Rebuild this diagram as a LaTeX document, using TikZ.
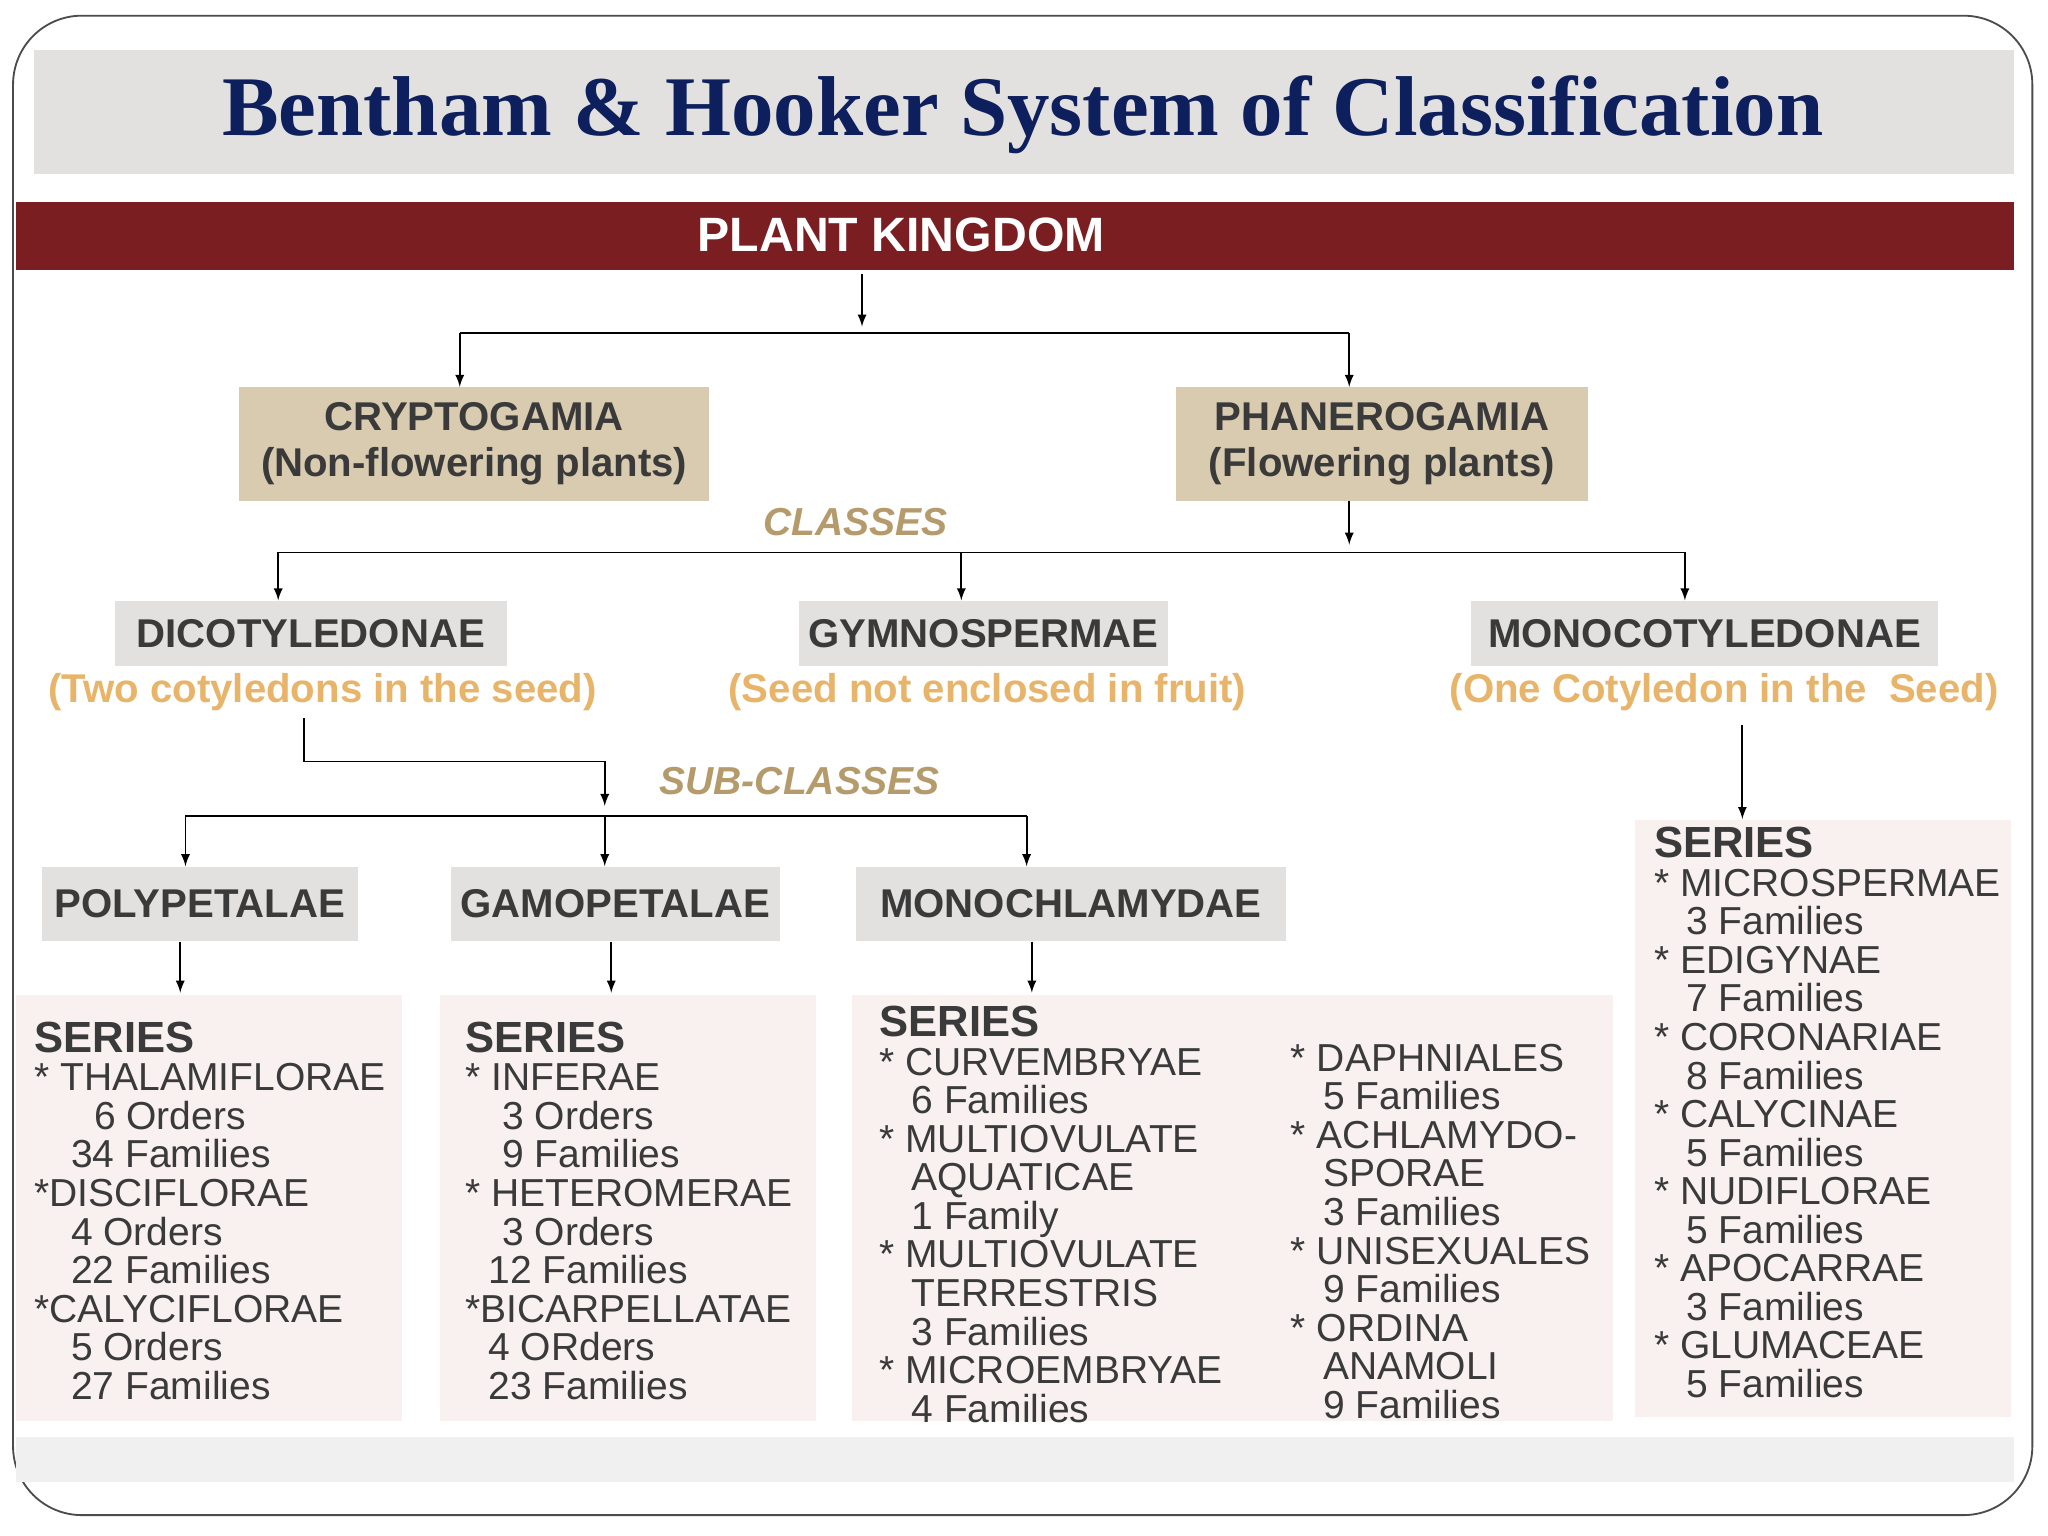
\documentclass[tikz,border=0pt]{standalone}
\usepackage{fontspec}
\setmainfont{Liberation Sans}
\newfontfamily\titlefont{Liberation Serif}
\definecolor{navy}{HTML}{0D1F5C}
\definecolor{maroon}{HTML}{7A1E22}
\definecolor{tan}{HTML}{D9CBB0}
\definecolor{lgray}{HTML}{E3E1DF}
\definecolor{gold}{HTML}{B59B6B}
\definecolor{orng}{HTML}{E8B46A}
\definecolor{panel}{HTML}{F8F1F0}
\definecolor{txt}{HTML}{3A3A3A}
\tikzset{
 box/.style={inner sep=0pt,font=\fontsize{17.5}{20}\selectfont\bfseries,text=txt,align=center},
 lab/.style={font=\fontsize{17}{20}\selectfont\bfseries\itshape,text=gold},
 sub/.style={font=\fontsize{17.5}{20}\selectfont\bfseries,text=orng},
 ser/.style={anchor=north west,align=left,inner sep=0pt,text=txt,font=\fontsize{17}{16.8}\selectfont},
 arr/.style={-latex,thick,black},
 ln/.style={thick,black}
}
\newcommand{\sershead}{\textbf{\fontsize{19}{18}\selectfont SERIES}}
\begin{document}
\begin{tikzpicture}[x=0.02cm,y=-0.02cm]
\useasboundingbox (0,0) rectangle (1568,1176);
\draw[black!70,line width=0.8pt,fill=white] (10,12) [rounded corners=30pt] rectangle (1556,1160);
\fill[lgray] (26,38) rectangle (1542,133);
\node[text=navy,font=\fontsize{37}{40}\selectfont\titlefont\bfseries] (title) at (783,88) {Bentham \& Hooker System of Classification};
\fill[black!6] (12,1100) rectangle (1542,1135);
\fill[maroon] (12,155) rectangle (1542,207);
\node[text=white,font=\fontsize{21}{22}\selectfont\bfseries] (pk) at (690,180) {PLANT KINGDOM};
% level 1
\node[box,fill=tan,minimum width=360*0.02cm,minimum height=87*0.02cm] (cry) at (363,340) {CRYPTOGAMIA\\(Non-flowering plants)};
\node[box,fill=tan,minimum width=316*0.02cm,minimum height=87*0.02cm] (pha) at (1058,340) {PHANEROGAMIA\\(Flowering plants)};
\coordinate (k1) at (660,210);
\draw[arr] (k1) -- (660,250);
\draw[ln] (352,255) -- (1033,255);
\draw[arr] (352,255) -- (cry.north-|352,0);
\draw[arr] (1033,255) -- (pha.north-|1033,0);
\node[lab] (classes) at (655,400) {CLASSES};
% level 2
\node[box,fill=lgray,minimum width=300*0.02cm,minimum height=50*0.02cm] (dic) at (238,485) {DICOTYLEDONAE};
\node[box,fill=lgray,minimum width=283*0.02cm,minimum height=50*0.02cm] (gym) at (753,485) {GYMNOSPERMAE};
\node[box,fill=lgray,minimum width=358*0.02cm,minimum height=50*0.02cm] (mon) at (1305,485) {MONOCOTYLEDONAE};
\draw[arr] (pha.south-|1033,0) -- (1033,417);
\draw[ln] (213,423) -- (1290,423);
\draw[arr] (213,423) -- (dic.north-|213,0);
\draw[arr] (736,423) -- (gym.north-|736,0);
\draw[arr] (1290,423) -- (mon.north-|1290,0);
\node[sub] (s1) at (247,530) {(Two cotyledons in the seed)};
\node[sub] (s2) at (756,530) {(Seed not enclosed in fruit)};
\node[sub] (s3) at (1320,530) {(One Cotyledon in the~~Seed)};
% subclasses
\draw[ln] (233,550) -- (233,583) -- (463,583);
\draw[arr] (463,583) -- (463,617);
\node[lab] (subc) at (612,598) {SUB-CLASSES};
\node[box,fill=lgray,minimum width=242*0.02cm,minimum height=57*0.02cm] (pol) at (153,692) {POLYPETALAE};
\node[box,fill=lgray,minimum width=252*0.02cm,minimum height=57*0.02cm] (gam) at (471,692) {GAMOPETALAE};
\node[box,fill=lgray,minimum width=329*0.02cm,minimum height=57*0.02cm] (mch) at (820,692) {MONOCHLAMYDAE};
\draw[ln] (142,625) -- (786,625);
\draw[arr] (142,625) -- (pol.north-|142,0);
\draw[arr] (463,625) -- (gam.north-|463,0);
\draw[arr] (786,625) -- (mch.north-|786,0);
% panels
\fill[panel] (12,762) rectangle (308,1088);
\fill[panel] (337,762) rectangle (625,1088);
\fill[panel] (652,762) rectangle (1235,1088);
\fill[panel] (1252,628) rectangle (1540,1085);
\draw[arr] (pol.south-|138,0) -- (138,760);
\draw[arr] (gam.south-|468,0) -- (468,760);
\draw[arr] (mch.south-|790,0) -- (790,760);
\draw[arr] (1334,555) -- (1334,627);
\node[ser] (p1) at (26,782) {\sershead\\
* THALAMIFLORAE\\\hspace*{26pt}6 Orders\\\hspace*{16pt}34 Families\\
*DISCIFLORAE\\\hspace*{16pt}4 Orders\\\hspace*{16pt}22 Families\\
*CALYCIFLORAE\\\hspace*{16pt}5 Orders\\\hspace*{16pt}27 Families};
\node[ser] (p2) at (356,782) {\sershead\\
* INFERAE\\\hspace*{16pt}3 Orders\\\hspace*{16pt}9 Families\\
* HETEROMERAE\\\hspace*{16pt}3 Orders\\\hspace*{10pt}12 Families\\
*BICARPELLATAE\\\hspace*{10pt}4 ORders\\\hspace*{10pt}23 Families};
\node[ser] (p3) at (673,770) {\sershead\\
* CURVEMBRYAE\\\hspace*{14pt}6 Families\\
* MULTIOVULATE\\\hspace*{14pt}AQUATICAE\\\hspace*{14pt}1 Family\\
* MULTIOVULATE\\\hspace*{14pt}TERRESTRIS\\\hspace*{14pt}3 Families\\
* MICROEMBRYAE\\\hspace*{14pt}4 Families};
\node[ser] (p4) at (988,799) {* DAPHNIALES\\\hspace*{14pt}5 Families\\
* ACHLAMYDO-\\\hspace*{14pt}SPORAE\\\hspace*{14pt}3 Families\\
* UNISEXUALES\\\hspace*{14pt}9 Families\\
* ORDINA\\\hspace*{14pt}ANAMOLI\\\hspace*{14pt}9 Families};
\node[ser] (p5) at (1266,633) {\sershead\\
* MICROSPERMAE\\\hspace*{14pt}3 Families\\
* EDIGYNAE\\\hspace*{14pt}7 Families\\
* CORONARIAE\\\hspace*{14pt}8 Families\\
* CALYCINAE\\\hspace*{14pt}5 Families\\
* NUDIFLORAE\\\hspace*{14pt}5 Families\\
* APOCARRAE\\\hspace*{14pt}3 Families\\
* GLUMACEAE\\\hspace*{14pt}5 Families};
\end{tikzpicture}
\end{document}
